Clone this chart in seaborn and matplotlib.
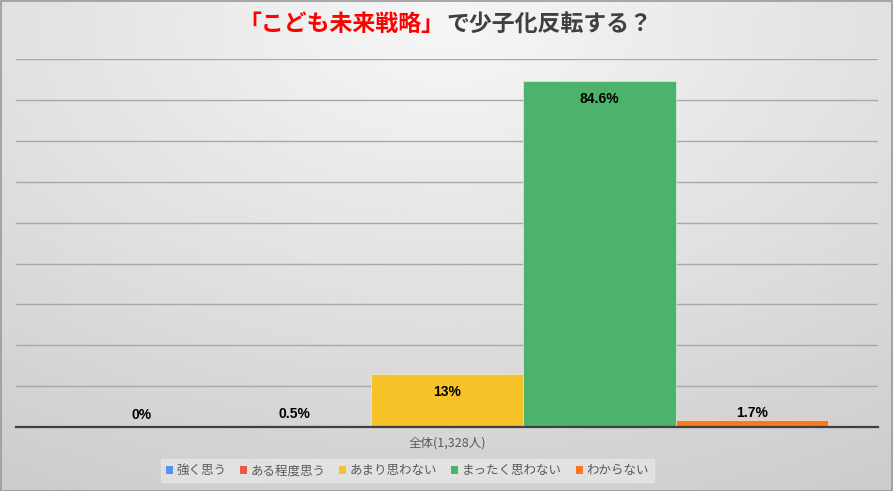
import numpy as np
import pandas as pd
import seaborn as sns
import matplotlib.pyplot as plt
from matplotlib.patches import Rectangle

# データ
group = '全体(1,328人)'
answers = ['強く思う', 'ある程度思う', 'あまり思わない', 'まったく思わない', 'わからない']
values = [0.0, 0.5, 13.0, 84.6, 1.7]
value_labels = ['0%', '0.5%', '13%', '84.6%', '1.7%']
colors = ['#5B8FF0', '#E8594A', '#F7C128', '#4DB26B', '#F87A1F']

df = pd.DataFrame({'group': group, 'answer': answers, 'value': values})

sns.set_theme(style='white')
plt.rcParams['font.family'] = ['Noto Sans CJK JP', 'DejaVu Sans']

fig = plt.figure(figsize=(8.93, 4.91), dpi=100)

# 背景グラデーション
bg = fig.add_axes([0, 0, 1, 1], zorder=0)
yy, xx = np.mgrid[0:1:300j, 0:1:500j]
r = np.sqrt(((xx - 0.5) * 1.0) ** 2 + ((yy - 0.05) * 0.9) ** 2)
shade = 0.965 - 0.17 * r
bg.imshow(shade, cmap='gray', vmin=0, vmax=1, aspect='auto', extent=[0, 1, 1, 0])
bg.set_axis_off()

ax = fig.add_axes([0.018, 0.130, 0.965, 0.750], zorder=1)
ax.patch.set_alpha(0)

sns.barplot(data=df, x='group', y='value', hue='answer', hue_order=answers,
            palette=colors, width=0.885, saturation=1, ax=ax,
            edgecolor='#F4F4F4', linewidth=0.4)

ax.set_ylim(0, 90)
ax.set_xlim(-0.5, 0.5)
ax.set_yticks(np.arange(10, 91, 10))
ax.yaxis.grid(True, color='#A8A8A8', linewidth=1.0)
ax.set_axisbelow(True)
ax.tick_params(axis='y', left=False, labelleft=False)
ax.tick_params(axis='x', bottom=False, labelsize=9, labelcolor='#595959', pad=1)
ax.set_xlabel('')
ax.set_ylabel('')
for s in ['top', 'right', 'left']:
    ax.spines[s].set_visible(False)
ax.spines['bottom'].set_color('#404040')
ax.spines['bottom'].set_linewidth(1.6)
ax.spines['bottom'].set_zorder(5)

# データラベル
paddings = [4, 3, -18, -18, 0]
for cont, lab, pad in zip(ax.containers, value_labels, paddings):
    ax.bar_label(cont, labels=[lab], padding=pad, fontsize=10, fontweight='bold',
                 color='black', family=['Liberation Sans', 'DejaVu Sans'])

# 凡例
handles, labels = ax.get_legend_handles_labels()
ax.legend_.remove()
leg = fig.legend(handles, labels, loc='center', bbox_to_anchor=(0.456, 0.041),
                 ncol=5, frameon=True, fontsize=9, handlelength=0.55, handleheight=0.55,
                 handletextpad=0.3, columnspacing=1.1, borderpad=0.4,
                 labelcolor='#595959', fancybox=False)
leg.get_frame().set_facecolor('#E6E6E6')
leg.get_frame().set_edgecolor('#E6E6E6')
leg.set_zorder(3)
for h in leg.legend_handles:
    h.set_edgecolor('none')

# タイトル（2色）
fig.text(0.497, 0.951, '「こども未来戦略」', ha='right', va='center', fontsize=16.5,
         fontweight='bold', color='#FF0000', zorder=3)
fig.text(0.500, 0.951, 'で少子化反転する？', ha='left', va='center', fontsize=16.5,
         fontweight='bold', color='#404040', zorder=3)

# 枠線
fig.patches.append(Rectangle((0.001, 0.001), 0.998, 0.997, transform=fig.transFigure,
                             fill=False, edgecolor='#9A9A9A', linewidth=1.2, zorder=4))

fig.savefig('out.png', dpi=100)
